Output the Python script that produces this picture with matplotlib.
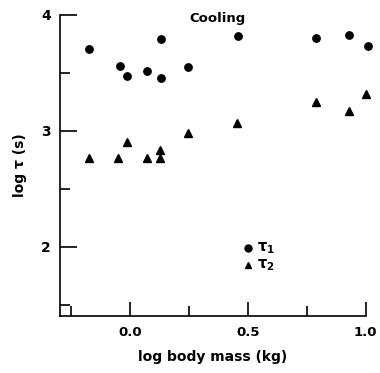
import numpy as np
import matplotlib.pyplot as plt

# log body mass (kg) and log tau (s)
mass_tau1 = [-0.175, -0.043, -0.013, 0.071, 0.133, 0.13, 0.248, 0.457, 0.79, 0.93, 1.01]
tau1 = [3.71, 3.56, 3.47, 3.515, 3.79, 3.46, 3.55, 3.82, 3.80, 3.825, 3.73]

mass_tau2 = [-0.175, -0.05, -0.012, 0.071, 0.126, 0.126, 0.247, 0.455, 0.788, 0.93, 1.0]
tau2 = [2.77, 2.77, 2.905, 2.77, 2.765, 2.836, 2.98, 3.07, 3.25, 3.17, 3.32]

xticks = [0.0, 0.5, 1.0]
xtick_labels = ["0.0", "0.5", "1.0"]
yticks = [2, 3, 4]

plt.rcParams['font.family'] = ['DejaVu Sans']
plt.rcParams['mathtext.default'] = 'regular'

fig = plt.figure(figsize=(3.8, 3.73), dpi=100)
ax = fig.add_axes([0.159, 0.153, 0.803, 0.807])

ax.plot(mass_tau1, tau1, 'o', color='black', ms=5.3, clip_on=False)
ax.plot(mass_tau2, tau2, '^', color='black', ms=5.3, clip_on=False)

ax.set_xlim(-0.295, 1.0)
ax.set_ylim(1.405, 4.0)

for s in ['top', 'right']:
    ax.spines[s].set_visible(False)
for s in ['left', 'bottom']:
    ax.spines[s].set_linewidth(1.2)

ax.set_xticks(xticks)
ax.set_xticklabels(xtick_labels, fontweight='bold', fontsize=9.5)
ax.set_xticks([-0.25, 0.25, 0.75], minor=True)
ax.set_yticks(yticks)
ax.set_yticklabels([str(v) for v in yticks], fontweight='bold', fontsize=10)
ax.set_yticks([1.5, 2.5, 3.5], minor=True)
ax.tick_params(direction='in', width=1.2, length=10, pad=7)
ax.tick_params(which='minor', direction='in', width=1.2, length=7)
ax.tick_params(axis='y', length=12)

ax.set_xlabel("log body mass (kg)", fontsize=10, fontweight='bold', labelpad=8)
ax.set_ylabel("log τ (s)", fontsize=10, fontweight='bold', labelpad=10)

ax.text(0.373, 3.97, "Cooling", ha='center', va='center', fontsize=9.5, fontweight='bold')

# legend drawn by hand in data space
ax.plot([0.5], [1.99], 'o', color='black', ms=5)
ax.plot([0.5], [1.84], '^', color='black', ms=5)
ax.text(0.54, 1.99, "τ$_1$", va='center', fontsize=10.5, fontweight='bold')
ax.text(0.54, 1.84, "τ$_2$", va='center', fontsize=10.5, fontweight='bold')

fig.savefig("out.png", dpi=100)
